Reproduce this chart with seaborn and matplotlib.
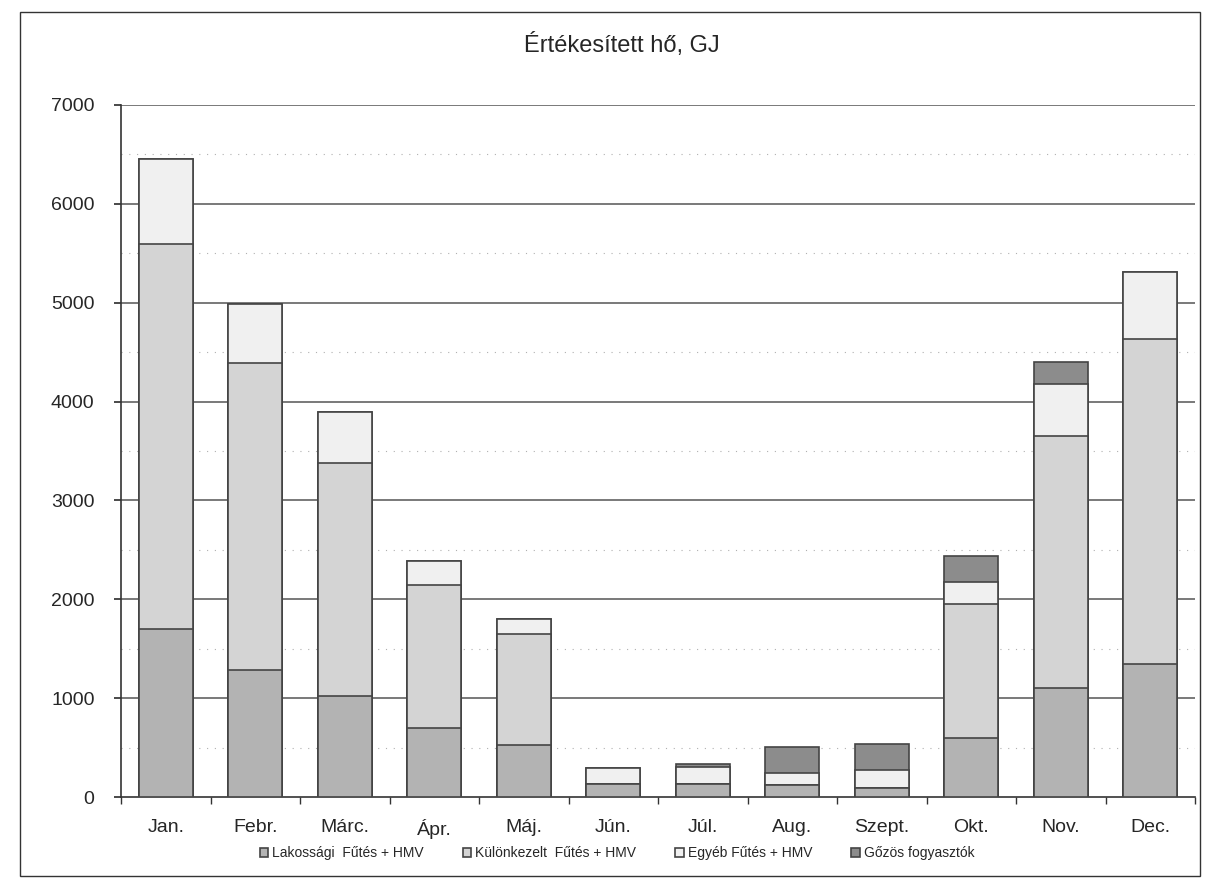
import numpy as np
import pandas as pd
import seaborn as sns
import matplotlib.pyplot as plt
from matplotlib.patches import Rectangle

months = ["Jan.", "Febr.", "Márc.", "Ápr.", "Máj.", "Jún.", "Júl.", "Aug.",
          "Szept.", "Okt.", "Nov.", "Dec."]
series = ["Lakossági  Fűtés + HMV", "Különkezelt  Fűtés + HMV",
          "Egyéb Fűtés + HMV", "Gőzös fogyasztók"]
lakossagi = [1700, 1280, 1020, 700, 530, 130, 130, 120, 90, 600, 1100, 1350]
kulonkezelt = [3890, 3110, 2360, 1440, 1120, 0, 0, 0, 0, 1350, 2550, 3280]
egyeb = [860, 600, 510, 250, 150, 160, 170, 120, 180, 220, 530, 680]
gozos = [0, 0, 0, 0, 0, 0, 30, 270, 270, 270, 220, 0]
colors = ["#b3b3b3", "#d4d4d4", "#f0f0f0", "#8c8c8c"]

df = pd.DataFrame({"month": months, series[0]: lakossagi, series[1]: kulonkezelt,
                   series[2]: egyeb, series[3]: gozos})

sns.set_theme(style="white")
plt.rcParams['font.family'] = ['Liberation Sans', 'DejaVu Sans']

fig = plt.figure(figsize=(12.05, 8.89), dpi=100)
ax = fig.add_axes([121/1205, 1-797/889, (1195-121)/1205, (797-105)/889])

# stacked bars: draw cumulative sums from the top segment down
cum = df[series].cumsum(axis=1)
for i in range(len(series)-1, -1, -1):
    sns.barplot(x=df["month"], y=cum[series[i]], color=colors[i], ax=ax,
                width=0.6, edgecolor="#444444", linewidth=1.2, saturation=1,
                label=series[i], zorder=3)

ax.set_ylim(0, 7000)
ax.set_xlim(-0.5, 11.5)
ax.set_yticks(np.arange(0, 7001, 1000))
for y in np.arange(1000, 7001, 1000):
    ax.axhline(y, color="#555555", lw=1.1, zorder=1)
for y in np.arange(500, 7000, 1000):
    ax.axhline(y, color="#b0b0b0", lw=0.8, ls=(0, (1, 6)), zorder=1)

ax.set_xlabel("")
ax.set_ylabel("")
ax.tick_params(axis="y", labelsize=14, length=5, color="#333333", direction="out",
               left=True, pad=14)
ax.tick_params(axis="x", labelsize=14, length=0, pad=16)
ax.set_xticks(np.arange(-0.5, 12, 1), minor=True)
ax.tick_params(axis="x", which="minor", length=5, color="#333333", bottom=True)
for s in ["top", "right"]:
    ax.spines[s].set_visible(False)
for s in ["left", "bottom"]:
    ax.spines[s].set_color("#333333")
    ax.spines[s].set_linewidth(1.2)

ax.set_title("Értékesített hő, GJ", fontsize=17, pad=38, x=0.466)

handles, labels = ax.get_legend_handles_labels()
order = [labels.index(s) for s in series]
ax.legend([handles[k] for k in order], [labels[k] for k in order],
          loc="upper center", bbox_to_anchor=(0.462, -0.053), ncol=4, frameon=False,
          fontsize=10, handlelength=0.6, handleheight=0.6, columnspacing=2.8,
          handletextpad=0.3)

fig.patches.append(Rectangle((20/1205, 1-876/889), 1180/1205, 864/889,
                             transform=fig.transFigure, fill=False,
                             edgecolor="#333333", lw=1))

fig.savefig("out.png", dpi=100, facecolor="white")
